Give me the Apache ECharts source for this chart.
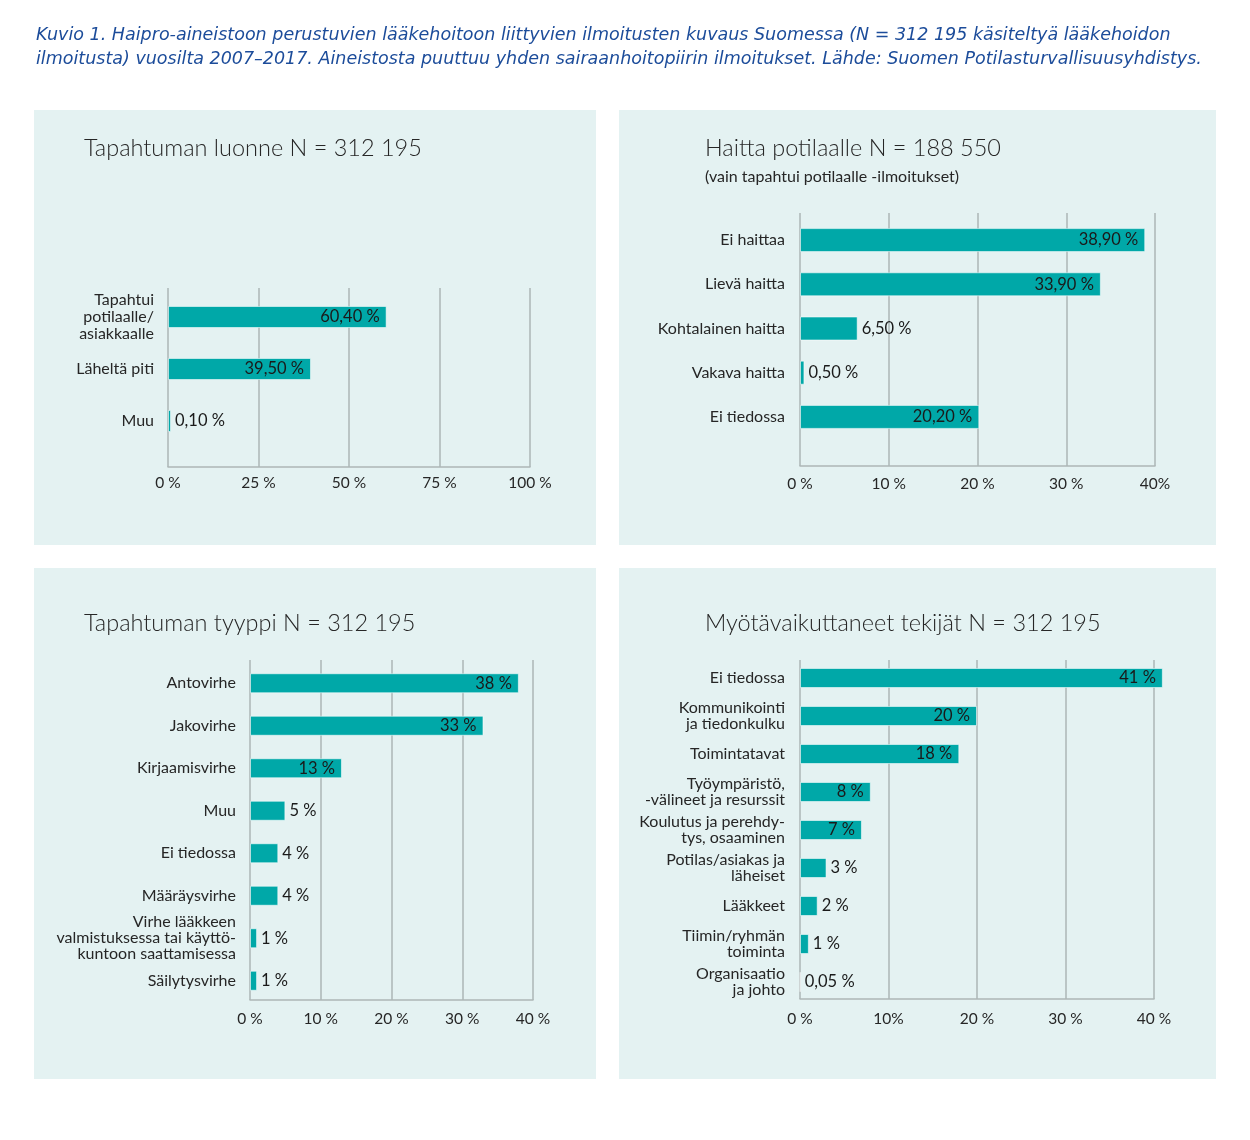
<!DOCTYPE html>
<html><head><meta charset="utf-8">
<script src="https://cdn.jsdelivr.net/npm/echarts/dist/echarts.min.js"></script>
<style>html,body{margin:0;padding:0;background:#fff}#c{width:1250px;height:1140px}</style>
</head><body><div id="c"></div>
<script>
// ---- data ----
const headingLines = [
  'Kuvio 1. Haipro-aineistoon perustuvien lääkehoitoon liittyvien ilmoitusten kuvaus Suomessa (N = 312 195 käsiteltyä lääkehoidon',
  'ilmoitusta) vuosilta 2007–2017. Aineistosta puuttuu yhden sairaanhoitopiirin ilmoitukset. Lähde: Suomen Potilasturvallisuusyhdistys.'
];

const p1Title = 'Tapahtuman luonne N = 312 195';
const p1Cats = ['Tapahtui\npotilaalle/\nasiakkaalle', 'Läheltä piti', 'Muu'];
const p1Vals = [60.4, 39.5, 0.1];
const p1Ticks = ['0 %', '25 %', '50 %', '75 %', '100 %'];

const p2Title = 'Haitta potilaalle N = 188 550';
const p2Sub = '(vain tapahtui potilaalle -ilmoitukset)';
const p2Cats = ['Ei haittaa', 'Lievä haitta', 'Kohtalainen haitta', 'Vakava haitta', 'Ei tiedossa'];
const p2Vals = [38.9, 33.9, 6.5, 0.5, 20.2];
const p2Ticks = ['0 %', '10 %', '20 %', '30 %', '40%'];

const p3Title = 'Tapahtuman tyyppi N = 312 195';
const p3Cats = ['Antovirhe', 'Jakovirhe', 'Kirjaamisvirhe', 'Muu', 'Ei tiedossa', 'Määräysvirhe',
  'Virhe lääkkeen\nvalmistuksessa tai käyttö-\nkuntoon saattamisessa', 'Säilytysvirhe'];
const p3Vals = [38, 33, 13, 5, 4, 4, 1, 1];
const p3Ticks = ['0 %', '10 %', '20 %', '30 %', '40 %'];

const p4Title = 'Myötävaikuttaneet tekijät N = 312 195';
const p4Cats = ['Ei tiedossa', 'Kommunikointi\nja tiedonkulku', 'Toimintatavat', 'Työympäristö,\n-välineet ja resurssit',
  'Koulutus ja perehdy-\ntys, osaaminen', 'Potilas/asiakas ja\nläheiset', 'Lääkkeet', 'Tiimin/ryhmän\ntoiminta', 'Organisaatio\nja johto'];
const p4Vals = [41, 20, 18, 8, 7, 3, 2, 1, 0.05];
const p4Ticks = ['0 %', '10%', '20 %', '30 %', '40 %'];

// ---- layout / style ----
const FONT = 'Lato, "Open Sans", sans-serif';
const HFONT = '"DejaVu Sans", "Open Sans", sans-serif';
const BG = '#e4f2f2';
const BAR = '#00a8a8';
const GRIDC = '#adb6b6';
const TXT = '#262626';

const panels = [
  {title: p1Title, cats: p1Cats, vals: p1Vals, ticks: p1Ticks, max: 100, interval: 25, dec: 2, minLen: 3,
   bg: [34, 110, 562, 435], tx: 84, ty: 131, tickMargin: 7.5,
   bars: {left: 168, right: 720, top: 291, height: 156}, axis: {top: 288, height: 179},
   barW: 22, lh: 17, margin: 14},
  {title: p2Title, sub: p2Sub, cats: p2Cats, vals: p2Vals, ticks: p2Ticks, max: 40, interval: 10, dec: 2, minLen: 0,
   bg: [619, 110, 597, 435], tx: 705, ty: 131, tickMargin: 10,
   bars: {left: 800, right: 95, top: 218, height: 221}, axis: {top: 213, height: 253},
   barW: 24, lh: 17, margin: 15},
  {title: p3Title, cats: p3Cats, vals: p3Vals, ticks: p3Ticks, max: 40, interval: 10, dec: -1, minLen: 0,
   bg: [34, 568, 562, 511], tx: 84, ty: 606, tickMargin: 11,
   bars: {left: 250, right: 717, top: 662, height: 340}, axis: {top: 660, height: 340},
   barW: 20, lh: 16, margin: 14},
  {title: p4Title, cats: p4Cats, vals: p4Vals, ticks: p4Ticks, max: 40, interval: 10, dec: -1, minLen: 0,
   bg: [619, 568, 597, 511], tx: 705, ty: 606, tickMargin: 12,
   bars: {left: 800, right: 96, top: 659, height: 342}, axis: {top: 660, height: 339},
   barW: 20, lh: 16, margin: 15}
];

function fmt(v, dec) {
  const s = dec >= 0 ? v.toFixed(dec) : String(v);
  return s.replace('.', ',') + ' %';
}

const grid = [], xAxis = [], yAxis = [], series = [], graphic = [], title = [];

title.push({
  text: headingLines.join('\n'), left: 31, top: 18,
  textStyle: {fontFamily: HFONT, fontStyle: 'italic', fontWeight: 'normal', fontSize: 17.5, lineHeight: 24, color: '#1c4c9a'}
});

panels.forEach((p, i) => {
  graphic.push({type: 'rect', z: -10, silent: true,
    shape: {x: p.bg[0], y: p.bg[1], width: p.bg[2], height: p.bg[3]}, style: {fill: BG}});
  title.push({text: p.title, left: p.tx - 5, top: p.ty,
    textStyle: {fontFamily: FONT, fontWeight: 300, fontSize: 23.5, color: TXT}});
  if (p.sub) title.push({text: p.sub, left: p.tx - 5, top: p.ty + 33,
    textStyle: {fontFamily: FONT, fontWeight: 'normal', fontSize: 16, color: TXT}});

  const gb = 2 * i, ga = 2 * i + 1;
  grid.push({left: p.bars.left, right: p.bars.right, top: p.bars.top, height: p.bars.height, containLabel: false});
  grid.push({left: p.bars.left, right: p.bars.right, top: p.axis.top, height: p.axis.height, containLabel: false});

  xAxis.push({gridIndex: gb, type: 'value', min: 0, max: p.max, show: false});
  yAxis.push({gridIndex: gb, type: 'category', data: p.cats, inverse: true,
    axisLine: {show: false}, axisTick: {show: false}, splitLine: {show: false},
    axisLabel: {margin: p.margin, fontFamily: FONT, fontSize: 16, color: TXT, lineHeight: p.lh, align: 'right'}});

  xAxis.push({gridIndex: ga, type: 'value', min: 0, max: p.max, interval: p.interval,
    axisLine: {show: true, lineStyle: {color: GRIDC, width: 1.5}},
    axisTick: {show: false},
    splitLine: {show: true, lineStyle: {color: GRIDC, width: 1.5}},
    axisLabel: {margin: p.tickMargin, fontFamily: FONT, fontSize: 15.5, color: TXT,
      formatter: v => p.ticks[Math.round(v / p.interval)]}});
  yAxis.push({gridIndex: ga, type: 'value', show: false, min: 0, max: 1});

  series.push({
    type: 'bar', xAxisIndex: gb, yAxisIndex: gb, barWidth: p.barW, z: 5, clip: false,
    barMinHeight: p.minLen,
    itemStyle: {color: BAR, borderColor: 'rgba(255,255,255,0.55)', borderWidth: 1},
    label: {show: true, fontFamily: FONT, fontSize: 16.5, color: '#1a1a1a',
      formatter: d => fmt(d.value, p.dec)},
    data: p.vals.map(v => ({value: v, label: v >= 7 ? {position: 'insideRight', distance: 7} : {position: 'right', distance: 4}}))
  });
});

const chart = echarts.init(document.getElementById('c'), null, {renderer: 'canvas'});
chart.setOption({backgroundColor: '#ffffff', animation: false, title, grid, xAxis, yAxis, series, graphic});
</script>
</body></html>
